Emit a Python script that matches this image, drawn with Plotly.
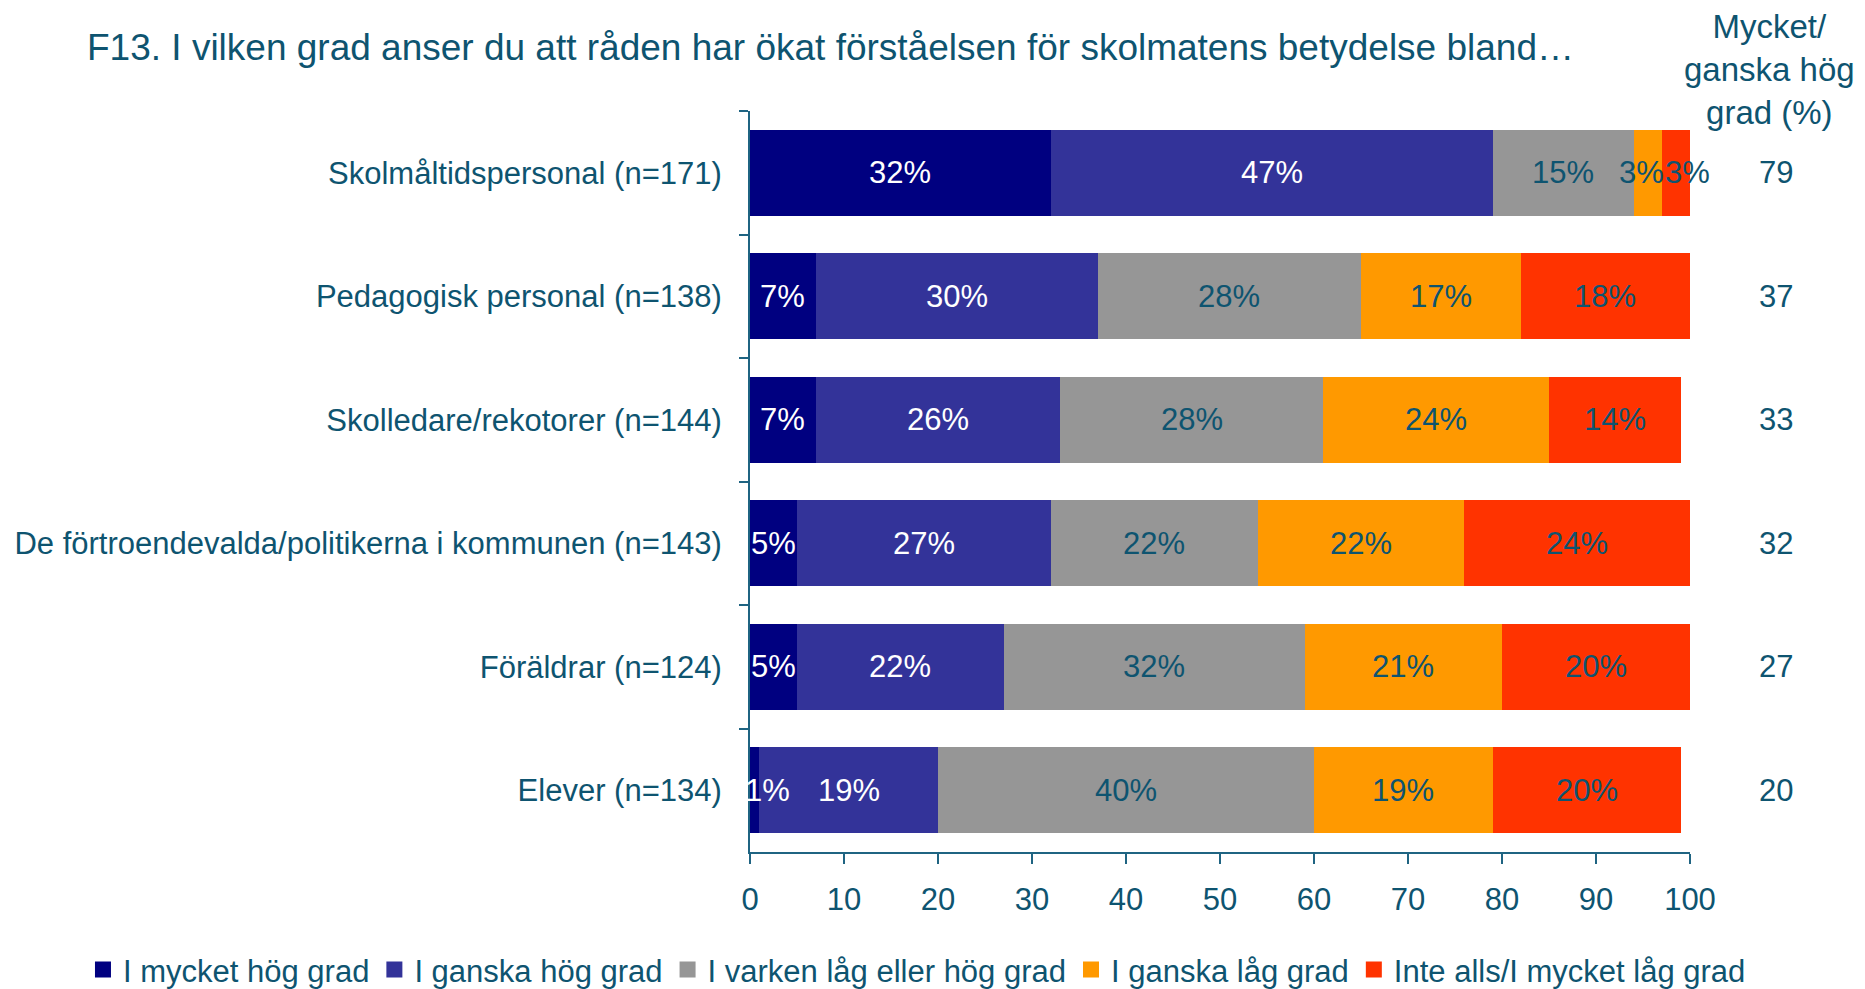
import plotly.graph_objects as go

categories = [
    "Skolmåltidspersonal (n=171)",
    "Pedagogisk personal (n=138)",
    "Skolledare/rekotorer (n=144)",
    "De förtroendevalda/politikerna i kommunen (n=143)",
    "Föräldrar (n=124)",
    "Elever (n=134)",
]
series_names = [
    "I mycket hög grad",
    "I ganska hög grad",
    "I varken låg eller hög grad",
    "I ganska låg grad",
    "Inte alls/I mycket låg grad",
]
mycket_hog = [32, 7, 7, 5, 5, 1]
ganska_hog = [47, 30, 26, 27, 22, 19]
varken = [15, 28, 28, 22, 32, 40]
ganska_lag = [3, 17, 24, 22, 21, 19]
inte_alls = [3, 18, 14, 24, 20, 20]
summa_hog = [79, 37, 33, 32, 27, 20]
header_text = "Mycket/<br>ganska hög<br>grad (%)"
title_text = "F13. I vilken grad anser du att råden har ökat förståelsen för skolmatens betydelse bland…"

colors = ["#000080", "#333399", "#969696", "#FF9900", "#FF3300"]
text_colors = ["#FFFFFF", "#FFFFFF", "#0E5470", "#0E5470", "#0E5470"]
TEAL = "#0E5470"
AXIS = "#1F6482"
FONT = "Liberation Sans, Arial, sans-serif"
FS = 31
# small pixel nudges for crowded labels: (series index, category index) -> xshift
label_nudge = {(0, 5): 13, (3, 0): -6, (4, 0): 12}

all_series = [mycket_hog, ganska_hog, varken, ganska_lag, inte_alls]

fig = go.Figure()
for name, vals, col in zip(series_names, all_series, colors):
    fig.add_trace(go.Bar(
        y=categories, x=vals, name=name, orientation="h",
        marker=dict(color=col, line=dict(width=0)),
        hoverinfo="skip", showlegend=False, legendgroup=name,
    ))
# legend entries with larger square swatches
for name, col in zip(series_names, colors):
    fig.add_trace(go.Scatter(
        x=[None], y=[None], mode="markers", name=name, legendgroup=name,
        marker=dict(symbol="square", size=16, color=col, line=dict(width=0)),
        hoverinfo="skip", showlegend=True,
    ))

offsets = [0] * len(categories)
for s, (vals, tcol) in enumerate(zip(all_series, text_colors)):
    for i, (cat, v) in enumerate(zip(categories, vals)):
        fig.add_annotation(x=offsets[i] + v / 2, xref="x", y=cat, yref="y", text=f"{v}%",
                           showarrow=False, font=dict(size=FS, color=tcol, family=FONT),
                           xanchor="center", yanchor="middle",
                           xshift=label_nudge.get((s, i), 0))
        offsets[i] += v

for cat, v in zip(categories, summa_hog):
    fig.add_annotation(x=1.0915, xref="paper", y=cat, yref="y", text=str(v),
                       showarrow=False, font=dict(size=FS, color=TEAL, family=FONT),
                       xanchor="center", yanchor="middle")

fig.add_annotation(x=1.085, xref="paper", y=1.056, yref="paper", text=header_text,
                   showarrow=False, font=dict(size=33, color=TEAL, family=FONT),
                   xanchor="center", yanchor="middle", align="center")

W, H = 1857, 981
fig.update_layout(
    width=W, height=H,
    barmode="stack", bargap=0.30,
    plot_bgcolor="white", paper_bgcolor="white",
    margin=dict(l=742, r=175, t=103, b=137, autoexpand=False),
    font=dict(family=FONT, size=FS, color=TEAL),
    title=dict(text=title_text, x=79/W, xanchor="left", xref="container",
               y=1-39/H, yanchor="middle", yref="container",
               font=dict(size=37, color=TEAL, family=FONT)),
    showlegend=True,
    legend=dict(orientation="h", x=-0.7096, xanchor="left", xref="paper",
                y=-0.159, yanchor="middle", yref="paper",
                font=dict(size=FS, color=TEAL, family=FONT), traceorder="normal",
                itemwidth=30, bgcolor="rgba(0,0,0,0)"),
    xaxis=dict(range=[0, 100], tickmode="linear", tick0=0, dtick=10,
               showgrid=False, zeroline=False, showline=True, linecolor=AXIS, linewidth=2,
               ticks="outside", ticklen=10, tickwidth=2, tickcolor=AXIS,
               ticklabelstandoff=9,
               tickfont=dict(size=FS, color=TEAL, family=FONT)),
    yaxis=dict(type="category", autorange="reversed", showgrid=False, zeroline=False,
               showline=True, linecolor=AXIS, linewidth=2,
               ticks="outside", tickson="boundaries", ticklen=9, tickwidth=2, tickcolor=AXIS,
               ticklabelstandoff=20,
               tickfont=dict(size=FS, color=TEAL, family=FONT)),
)

fig.write_html("out.html")
